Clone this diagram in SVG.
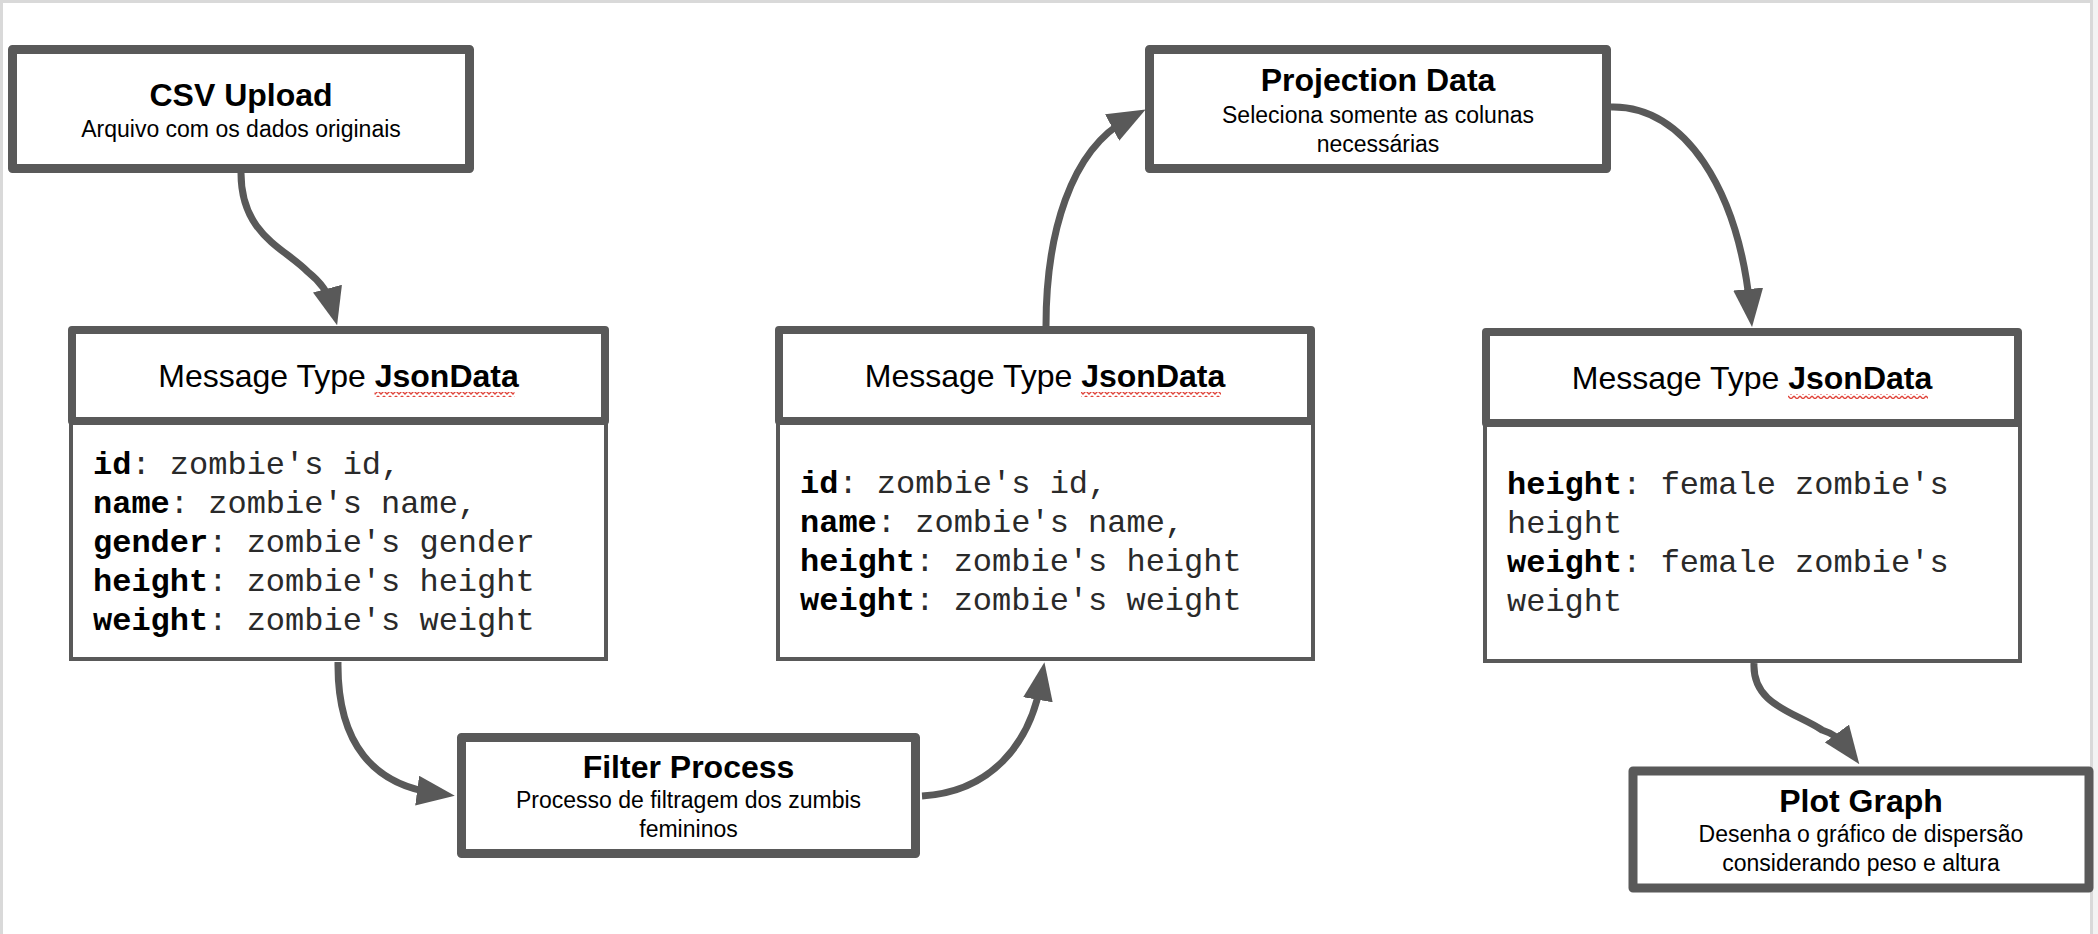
<svg xmlns="http://www.w3.org/2000/svg" width="2098" height="934" viewBox="0 0 2098 934">
<style>
.box{fill:#fff;stroke:#595959;stroke-width:9;stroke-linejoin:round}
.hdr{fill:#fff;stroke:#595959;stroke-width:8;stroke-linejoin:round}
.body{fill:#fff;stroke:#595959;stroke-width:4}
.ttl{font-family:"Liberation Sans",Arial,sans-serif;font-weight:bold;font-size:32px;fill:#000;text-anchor:middle}
.sub{font-family:"Liberation Sans",Arial,sans-serif;font-size:23px;fill:#000;text-anchor:middle}
.mt{font-family:"Liberation Sans",Arial,sans-serif;font-size:32px;fill:#000;text-anchor:middle}
.mono{font-family:"Liberation Mono","Courier New",monospace;font-size:32px;fill:#2a2a2a}
.b{font-weight:bold;fill:#000}
.conn{fill:none;stroke:#595959;stroke-width:7;marker-end:url(#ah)}
</style>
<defs>
<marker id="ah" viewBox="0 0 38 30" refX="18" refY="15" markerWidth="38" markerHeight="30" markerUnits="userSpaceOnUse" orient="auto">
<path d="M0,0 L38,15 L0,30 Z" fill="#595959"/>
</marker>
<pattern id="sq" width="6" height="5" patternUnits="userSpaceOnUse">
<path d="M0,1 L3,4 L6,1" fill="none" stroke="#e0443a" stroke-width="1.3"/>
</pattern>
</defs>
<rect x="0" y="0" width="2098" height="934" fill="#fff"/>
<rect x="2093" y="0" width="5" height="934" fill="#f3f3f3"/>
<path d="M1.5,940 V1.5 H2091.5 V940" fill="none" stroke="#d9d9d9" stroke-width="3"/>

<g id="connectors">
<path class="conn" d="M241,173 C241,235 285,248 308,272 Q327,287 332,306"/>
<path class="conn" d="M338,662 C337,745 375,785 435,793"/>
<path class="conn" d="M922,796 C990,792 1030,745 1041,682"/>
<path class="conn" d="M1046,326 C1046,235 1070,150 1128,119"/>
<path class="conn" d="M1611,107 C1685,105 1738,190 1750,307"/>
<path class="conn" d="M1754,663 C1752,705 1795,712 1822,730 Q1838,735 1847.5,748"/>
</g>

<g id="csv-upload">
<rect class="box" x="12.5" y="49.5" width="457" height="119"/>
<text class="ttl" x="241" y="106">CSV Upload</text>
<text class="sub" x="241" y="137">Arquivo com os dados originais</text>
</g>

<g id="msg1">
<rect class="body" x="71" y="421" width="535" height="238"/>
<rect class="hdr" x="72" y="330" width="533" height="91"/>
<text class="mt" x="338.5" y="387">Message Type <tspan class="b">JsonData</tspan></text>
<rect x="374.5" y="392" width="140" height="5" fill="url(#sq)"/>
<text class="mono" x="93" y="474"><tspan class="b">id</tspan>: zombie's id,</text>
<text class="mono" x="93" y="513"><tspan class="b">name</tspan>: zombie's name,</text>
<text class="mono" x="93" y="552"><tspan class="b">gender</tspan>: zombie's gender</text>
<text class="mono" x="93" y="591"><tspan class="b">height</tspan>: zombie's height</text>
<text class="mono" x="93" y="630"><tspan class="b">weight</tspan>: zombie's weight</text>
</g>

<g id="filter-process">
<rect class="box" x="461.5" y="737.5" width="454" height="116"/>
<text class="ttl" x="688.5" y="778">Filter Process</text>
<text class="sub" x="688.5" y="808">Processo de filtragem dos zumbis</text>
<text class="sub" x="688.5" y="837">femininos</text>
</g>

<g id="msg2">
<rect class="body" x="778" y="421" width="535" height="238"/>
<rect class="hdr" x="779" y="330" width="532" height="91"/>
<text class="mt" x="1045" y="387">Message Type <tspan class="b">JsonData</tspan></text>
<rect x="1081" y="392" width="140" height="5" fill="url(#sq)"/>
<text class="mono" x="800" y="493"><tspan class="b">id</tspan>: zombie's id,</text>
<text class="mono" x="800" y="532"><tspan class="b">name</tspan>: zombie's name,</text>
<text class="mono" x="800" y="571"><tspan class="b">height</tspan>: zombie's height</text>
<text class="mono" x="800" y="610"><tspan class="b">weight</tspan>: zombie's weight</text>
</g>

<g id="projection-data">
<rect class="box" x="1149.5" y="49.5" width="457" height="119"/>
<text class="ttl" x="1378" y="91">Projection Data</text>
<text class="sub" x="1378" y="123">Seleciona somente as colunas</text>
<text class="sub" x="1378" y="152">necessárias</text>
</g>

<g id="msg3">
<rect class="body" x="1485" y="423" width="535" height="238"/>
<rect class="hdr" x="1486" y="332" width="532" height="91"/>
<text class="mt" x="1752" y="389">Message Type <tspan class="b">JsonData</tspan></text>
<rect x="1788" y="394" width="140" height="5" fill="url(#sq)"/>
<text class="mono" x="1507" y="494"><tspan class="b">height</tspan>: female zombie's</text>
<text class="mono" x="1507" y="533">height</text>
<text class="mono" x="1507" y="572"><tspan class="b">weight</tspan>: female zombie's</text>
<text class="mono" x="1507" y="611">weight</text>
</g>

<g id="plot-graph">
<rect class="box" x="1633" y="771" width="456" height="117"/>
<text class="ttl" x="1861" y="812">Plot Graph</text>
<text class="sub" x="1861" y="842">Desenha o gráfico de dispersão</text>
<text class="sub" x="1861" y="871">considerando peso e altura</text>
</g>
</svg>
